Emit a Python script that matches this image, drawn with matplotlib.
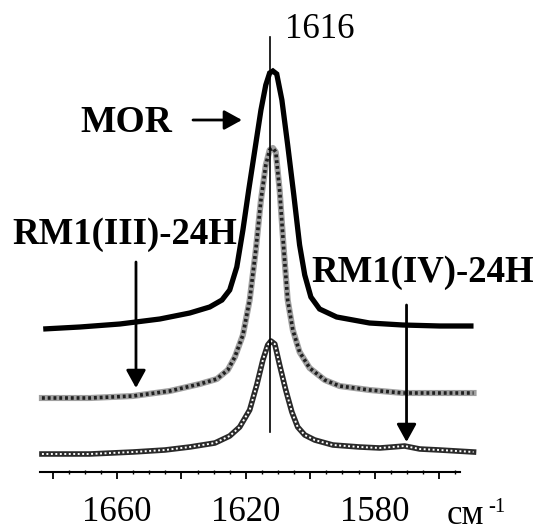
import matplotlib
matplotlib.use("Agg")
import matplotlib.pyplot as plt
from matplotlib.ticker import MultipleLocator, FixedLocator

# ---- data (wavenumber cm-1, absorbance a.u.) ----
mor_wn = [1682.9, 1671.5, 1659.1, 1646.7, 1637.4, 1631.2, 1627.4, 1625.0, 1622.8, 1620.9,
          1619.1, 1617.2, 1615.3, 1613.8, 1612.6, 1611.6, 1610.4, 1608.8, 1607.0, 1605.1,
          1603.3, 1601.7, 1599.8, 1597.1, 1591.8, 1581.6, 1571.3, 1559.8, 1549.3]
mor_abs = [1.43, 1.45, 1.48, 1.53, 1.59, 1.65, 1.72, 1.82, 2.05, 2.42,
           2.82, 3.22, 3.62, 3.87, 3.99, 4.01, 3.98, 3.72, 3.27, 2.77,
           2.27, 1.97, 1.75, 1.63, 1.55, 1.49, 1.47, 1.46, 1.46]

rm3_wn = [1683.3, 1668.4, 1655.0, 1643.6, 1634.3, 1629.0, 1625.6, 1623.4, 1620.9, 1618.8,
          1616.9, 1615.3, 1613.8, 1612.6, 1611.6, 1610.7, 1609.5, 1608.2, 1607.0, 1605.4,
          1603.3, 1600.2, 1595.5, 1590.9, 1581.6, 1571.3, 1559.8, 1549.3]
rm3_abs = [0.74, 0.74, 0.76, 0.81, 0.88, 0.93, 1.02, 1.15, 1.37, 1.72,
           2.22, 2.72, 3.07, 3.22, 3.24, 3.20, 2.82, 2.22, 1.72, 1.42,
           1.20, 1.04, 0.92, 0.86, 0.82, 0.79, 0.79, 0.79]

rm4_wn = [1683.3, 1668.4, 1655.0, 1645.1, 1637.4, 1629.6, 1625.0, 1621.9, 1618.8, 1616.6,
          1614.7, 1613.2, 1612.2, 1611.0, 1609.5, 1607.6, 1605.7, 1603.9, 1601.7, 1598.6,
          1593.0, 1584.7, 1578.4, 1574.4, 1570.7, 1566.0, 1559.8, 1549.3]
rm4_abs = [0.18, 0.18, 0.20, 0.22, 0.25, 0.29, 0.36, 0.45, 0.62, 0.87,
           1.12, 1.27, 1.31, 1.28, 1.07, 0.82, 0.60, 0.45, 0.37, 0.32,
           0.27, 0.25, 0.24, 0.25, 0.26, 0.23, 0.22, 0.20]

major_ticks = [1680, 1660, 1640, 1620, 1600, 1580, 1560]
tick_labels = ["", "1660", "", "1620", "", "1580", ""]
peak_pos = 1612.6
peak_label = "1616"
unit_label = "см"

SERIF = "Liberation Serif"

fig = plt.figure(figsize=(5.39, 5.32), dpi=100)
ax = fig.add_axes([40 / 539, (532 - 472) / 532, 420 / 539, (472 - 20) / 532])
ax.set_xlim(1683.9, 1553.5)
ax.set_ylim(0, 4.52)

# MOR
ax.plot(mor_wn, mor_abs, color="black", lw=3.8, clip_on=False, solid_joinstyle="miter",
        solid_capstyle="butt")
# RM1(III)-24H : light grey with dark cross pattern
ax.plot(rm3_wn, rm3_abs, color="#a0a0a0", lw=4.4, clip_on=False)
ax.plot(rm3_wn, rm3_abs, color="#202020", lw=2.6, clip_on=False, dashes=(0.8, 0.8))
# RM1(IV)-24H : dark with small white squares
ax.plot(rm4_wn, rm4_abs, color="#2a2a2a", lw=4.0, clip_on=False)
ax.plot(rm4_wn, rm4_abs, color="white", lw=1.4, clip_on=False, dashes=(1.0, 1.3))

# peak marker line
ax.plot([peak_pos, peak_pos], [0.40, 4.35], color="black", lw=1.2)

arrow_kw = dict(arrowstyle="-|>,head_length=0.4,head_width=0.22", lw=2.0, color="black",
                mutation_scale=27, shrinkA=0, shrinkB=0)
ax.annotate("", xy=(1621.2, 3.52), xytext=(1636.4, 3.52), arrowprops=arrow_kw)
ax.annotate("", xy=(1654.1, 0.84), xytext=(1654.1, 2.10), arrowprops=arrow_kw)
ax.annotate("", xy=(1570.1, 0.30), xytext=(1570.1, 1.67), arrowprops=arrow_kw)

ax.text(1657.2, 3.50, "MOR", fontsize=27, fontweight="bold", family=SERIF,
        ha="center", va="center")
ax.text(1657.5, 2.37, "RM1(III)-24H", fontsize=26.5, fontweight="bold", family=SERIF,
        ha="center", va="center")
ax.text(1565.0, 2.00, "RM1(IV)-24H", fontsize=26.5, fontweight="bold", family=SERIF,
        ha="center", va="center")
ax.text(1597.1, 4.42, peak_label, fontsize=25, family=SERIF, ha="center", va="center")

# axes styling
for s in ["top", "right", "left"]:
    ax.spines[s].set_visible(False)
ax.spines["bottom"].set_linewidth(1.5)
ax.set_yticks([])
ax.xaxis.set_major_locator(FixedLocator(major_ticks))
ax.set_xticklabels(tick_labels, fontsize=25, family=SERIF)
ax.xaxis.set_minor_locator(MultipleLocator(5))
ax.tick_params(axis="x", which="major", direction="out", length=5, width=1.3, pad=12)
ax.tick_params(axis="x", which="minor", direction="inout", length=3, width=1.0)

fig.text(447 / 539, (532 - 524) / 532, unit_label, fontsize=25, family=SERIF,
         ha="left", va="baseline")
fig.text(488 / 539, (532 - 512) / 532, "-1", fontsize=15, family=SERIF,
         ha="left", va="baseline")

fig.savefig("out.png", dpi=100)
